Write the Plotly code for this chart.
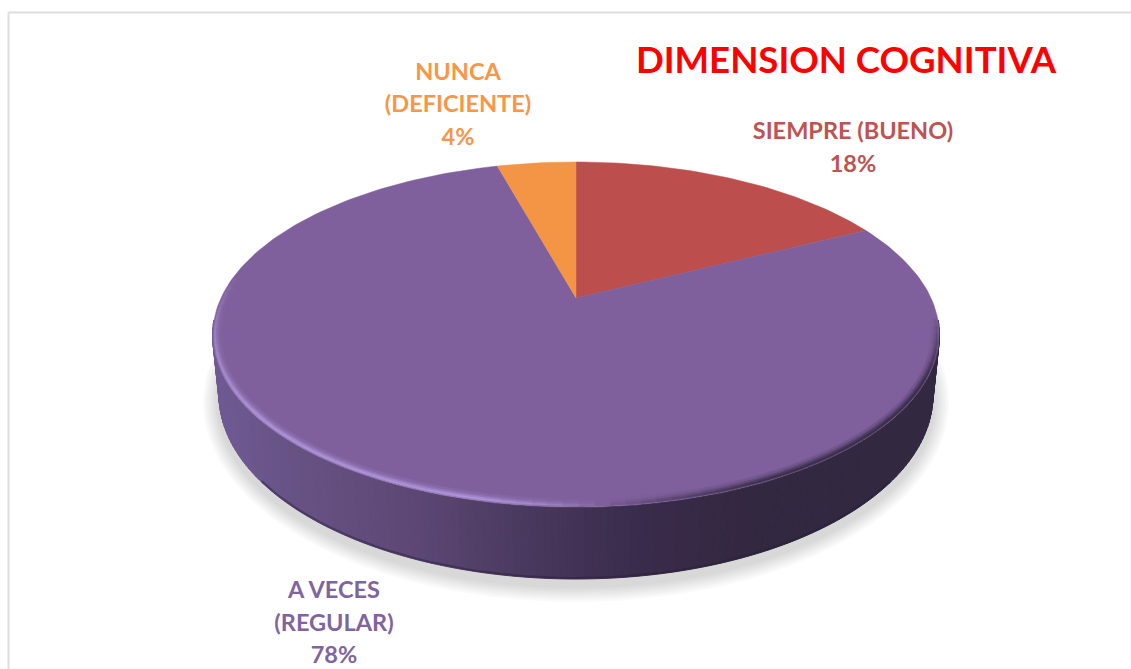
import numpy as np
import plotly.graph_objects as go

# ---- data ----
categories = ["SIEMPRE (BUENO)", "A VECES<br>(REGULAR)", "NUNCA<br>(DEFICIENTE)"]
values = [17.6, 78.1, 4.3]
slice_colors = ["#BC4F4D", "#7F609C", "#F39545"]
label_colors = ["#BE5350", "#8064A2", "#F79646"]
label_x = [853, 334, 458]
label_y = [133.5, 592.5, 74]
title_text = "DIMENSION COGNITIVA"

# ---- style / projection of the tilted disc ----
CX, TOP_CY, TOP_RX, TOP_RY = 576.0, 335.0, 363.5, 172.5
BOT_CY, BOT_RX, BOT_RY = 395.0, 357.0, 184.0
APEX_Y, K = 298.0, 0.2116
A, B = 355.0, 164.8
LINE_STEP = 32.5


def project(theta):
    """Clockwise angle from 12 o'clock on the disc -> page position (perspective)."""
    u, v = np.sin(theta), np.cos(theta)
    d = 1 + K * v
    return CX + A * u / d, APEX_Y - B * v / d


def to_bottom(x, y):
    return CX + (x - CX) / TOP_RX * BOT_RX, BOT_CY + (y - TOP_CY) / TOP_RY * BOT_RY


def hexrgb(h):
    return np.array([int(h[i:i + 2], 16) for i in (1, 3, 5)], float)


side_x = [212, 300, 420, 550, 640, 760, 940]
side_c = ["#705A94", "#675284", "#5C4774", "#46365A", "#3A2C4C", "#332840", "#322840"]
side_rgb = np.array([hexrgb(c) for c in side_c])


def side_color(x):
    c = [np.interp(x, side_x, side_rgb[:, i]) for i in range(3)]
    return "rgb(%d,%d,%d)" % tuple(c)


fig = go.Figure()


def poly(xs, ys, color, line=0.0):
    fig.add_trace(go.Scatter(x=xs, y=ys, mode="lines", fill="toself", fillcolor=color,
                             line=dict(color=color, width=line), hoverinfo="skip", showlegend=False))


# soft shadow below the disc
full = np.linspace(0, 2 * np.pi, 181)
for e in np.arange(16, 0, -2):
    poly(CX + (BOT_RX + e) * np.sin(full), BOT_CY + 7 + (BOT_RY + e) * np.cos(full),
         "rgba(90,90,90,0.03)")

# side wall as vertical shaded strips (front half of the rim)
edges = np.radians(np.arange(-95, 95.01, 1.25))
for a0, a1 in zip(edges[:-1], edges[1:]):
    xa = CX + TOP_RX * np.sin(np.array([a0, a1]))
    ya = TOP_CY + TOP_RY * np.cos(np.array([a0, a1]))
    xb, yb = to_bottom(xa, ya)
    poly([xa[0], xa[1], xb[1], xb[0], xa[0]], [ya[0], ya[1], yb[1], yb[0], ya[0]],
         side_color(xa.mean()), 1)

# thin darker foot of the wall
foot = np.radians(np.arange(-62, 62.01, 2))
fx = CX + (BOT_RX - 1) * np.sin(foot)
fy = BOT_CY + (BOT_RY - 1) * np.cos(foot)
fig.add_trace(go.Scatter(x=fx, y=fy, mode="lines", line=dict(color="rgba(40,30,55,0.45)", width=2),
                         hoverinfo="skip", showlegend=False))

# top face: slices are swept from the values
fractions = np.array(values) / sum(values)
stops = np.concatenate([[0], np.cumsum(fractions)]) * 2 * np.pi
for i, col in enumerate(slice_colors):
    th = np.linspace(stops[i], stops[i + 1], max(6, int(fractions[i] * 300)))
    x, y = project(th)
    poly(np.r_[CX, x, CX], np.r_[APEX_Y, y, APEX_Y], col, 0.5)

# bevel of the rim: light towards the lower left, dark towards the right
rim = np.radians(np.arange(-112, 96.01, 2.5))
bevel = [(9, 4.5, 0.16, 0.18), (6, 3.5, 0.30, 0.30), (3.5, 3.0, 0.55, 0.45), (1.5, 2.5, 0.80, 0.60)]
for width, inset, light, dark in bevel:
    for a0, a1 in zip(rim[:-1], rim[1:]):
        am = (a0 + a1) / 2
        f = np.sin(am)
        if f < 0.08:
            rise = np.clip((am + np.radians(112)) / np.radians(50), 0, 1)
            w = np.clip((0.08 - f) / 0.35, 0, 1) * rise
            col = "rgba(176,150,218,%.3f)" % (light * w)
        else:
            w = np.clip((f - 0.08) / 0.5, 0, 1) * np.clip((np.radians(96) - am) / np.radians(22), 0, 1)
            col = "rgba(50,40,64,%.3f)" % (dark * w)
        seg = np.array([a0, a1])
        fig.add_trace(go.Scatter(
            x=CX + (TOP_RX - inset) * np.sin(seg), y=TOP_CY + (TOP_RY - inset) * np.cos(seg),
            mode="lines", line=dict(color=col, width=width),
            hoverinfo="skip", showlegend=False))

# data labels, one text mark per line so that the line pitch can be set
for name, val, col, lx, ly in zip(categories, values, label_colors, label_x, label_y):
    lines = name.split("<br>") + [f"{round(val)}%"]
    fig.add_trace(go.Scatter(
        x=[lx] * len(lines), y=[ly + n * LINE_STEP for n in range(len(lines))],
        mode="text", text=[f"<b>{s}</b>" for s in lines],
        textposition="middle center",
        textfont=dict(family="Lato", size=23.5, color=col),
        hoverinfo="skip", showlegend=False))

fig.update_layout(
    width=1131, height=669, margin=dict(l=0, r=0, t=0, b=0),
    paper_bgcolor="white", plot_bgcolor="white", showlegend=False,
    title=dict(text=f"<b>{title_text}</b>", x=846 / 1131, y=1 - 60 / 669,
               xanchor="center", yanchor="middle",
               font=dict(family="Lato", size=36.6, color="#FF0000")),
    xaxis=dict(range=[0, 1131], visible=False, fixedrange=True),
    yaxis=dict(range=[669, 0], visible=False, fixedrange=True),
    shapes=[
        dict(type="line", xref="x", yref="y", x0=8.5, x1=1131, y0=12.5, y1=12.5,
             line=dict(color="#DDDDDD", width=2)),
        dict(type="line", xref="x", yref="y", x0=8.5, x1=8.5, y0=12.5, y1=669,
             line=dict(color="#DDDDDD", width=2)),
    ],
)

fig.write_html("out.html", post_script="document.body.style.margin='0';document.body.style.overflow='hidden';",
               config={"displayModeBar": False})
